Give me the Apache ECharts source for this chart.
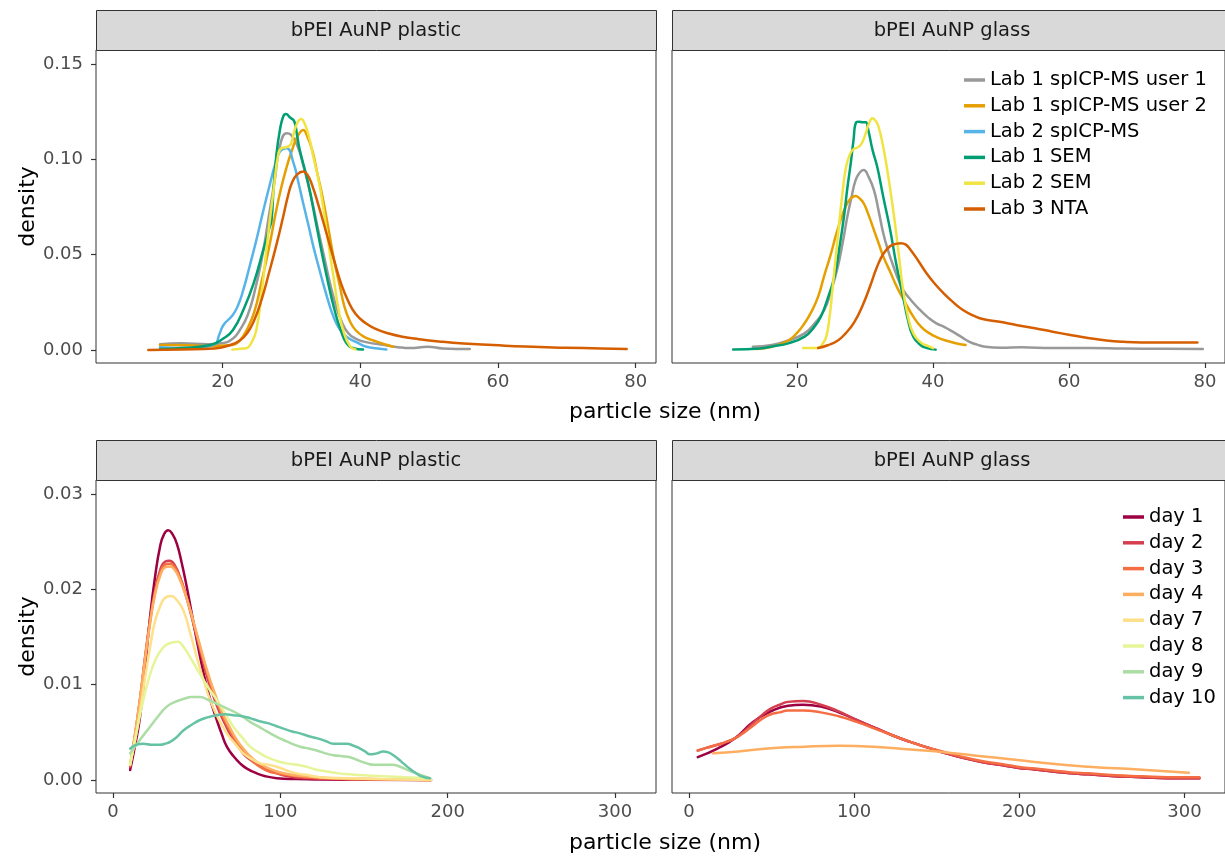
<!DOCTYPE html>
<html><head><meta charset="utf-8">
<script src="https://cdn.jsdelivr.net/npm/echarts@6/dist/echarts.min.js"></script>
<style>html,body{margin:0;padding:0;background:#fff}#c{width:1225px;height:857px}</style>
</head><body><div id="c"></div>
<script>
// ---------- tick labels ----------
const xTicksTop = [20, 40, 60, 80];
const yTicksTop = [0, 0.05, 0.10, 0.15];
const xTicksBottom = [0, 100, 200, 300];
const yTicksBottom = [0, 0.01, 0.02, 0.03];
const panelTitles = ['bPEI AuNP plastic', 'bPEI AuNP glass', 'bPEI AuNP plastic', 'bPEI AuNP glass'];
const xTitle = 'particle size (nm)';
const yTitle = 'density';

// ---------- categories ----------
const labNames = ['Lab 1 spICP-MS user 1', 'Lab 1 spICP-MS user 2', 'Lab 2 spICP-MS', 'Lab 1 SEM', 'Lab 2 SEM', 'Lab 3 NTA'];
const dayNames = ['day 1', 'day 2', 'day 3', 'day 4', 'day 7', 'day 8', 'day 9', 'day 10'];

// ---------- top row, plastic: [particle size, density] ----------
const plasticUser1 = [[10.9,0.003],[14,0.0035],[18,0.003],[19.9,0.0035],[21.5,0.006],[22.5,0.0105],[23.6,0.018],[24.6,0.030],[25.7,0.048],[26.7,0.070],[27.6,0.090],[28.3,0.1067],[29.3,0.1137],[29.9,0.113],[30.9,0.1067],[31.7,0.097],[32.5,0.0857],[33.3,0.073],[34,0.061],[34.8,0.048],[35.6,0.035],[36.4,0.024],[37.2,0.0157],[38.2,0.009],[39.3,0.006],[41,0.004],[43.5,0.0026],[45.5,0.0015],[47.2,0.001],[49.8,0.0017],[52,0.0008],[55.9,0.0005]];
const plasticUser2 = [[10.9,0.0026],[15,0.0025],[18,0.002],[21.4,0.0026],[22.5,0.005],[23.5,0.0105],[24.6,0.02],[25.6,0.035],[26.7,0.053],[27.7,0.0717],[28.5,0.085],[29.3,0.096],[30.0,0.104],[30.6,0.110],[31.2,0.114],[31.7,0.1154],[32.3,0.112],[33.0,0.105],[33.8,0.092],[34.6,0.0787],[35.4,0.063],[36.2,0.047],[37.0,0.034],[37.7,0.0227],[38.5,0.015],[39.3,0.0105],[40.5,0.007],[41.9,0.005],[43.5,0.003],[44.8,0.0017]];
const plasticIcp2 = [[10.9,0.0015],[15,0.001],[18.8,0.003],[19.5,0.008],[20.1,0.013],[21.5,0.0185],[22.3,0.024],[23,0.0315],[24,0.045],[24.9,0.0577],[25.9,0.073],[26.9,0.0875],[27.6,0.097],[28.3,0.104],[29.3,0.1058],[30.3,0.098],[31.0,0.088],[31.7,0.077],[32.5,0.065],[33.2,0.054],[34.0,0.043],[34.6,0.035],[35.4,0.025],[36.1,0.0175],[37,0.011],[38,0.007],[39.5,0.004],[40.9,0.0017],[42.5,0.0008],[43.8,0.0003]];
const plasticSem1 = [[10.9,0.0005],[14,0.001],[18.2,0.0026],[20.1,0.006],[21.5,0.0105],[23,0.021],[24.5,0.035],[25.9,0.0525],[26.8,0.064],[27.1,0.068],[27.4,0.085],[27.8,0.102],[28.3,0.115],[28.8,0.1225],[29.2,0.1238],[29.8,0.122],[30.4,0.12],[30.8,0.113],[31.2,0.105],[32.4,0.088],[33.7,0.064],[35.1,0.039],[36.4,0.019],[37.3,0.009],[38,0.0035],[39,0.001],[40.4,0.0002]];
const plasticSem2 = [[21.4,0.0002],[23,0.0008],[23.5,0.001],[24.2,0.004],[24.9,0.0105],[25.7,0.031],[26.4,0.054],[27.4,0.084],[28.1,0.103],[28.6,0.106],[29.3,0.1065],[29.9,0.108],[30.6,0.117],[31.4,0.1212],[32.0,0.118],[32.6,0.111],[33.2,0.101],[34.0,0.088],[34.6,0.075],[35.4,0.055],[36.1,0.0385],[36.8,0.022],[37.5,0.0105],[38.5,0.002],[39.3,0.0003]];
const plasticNta = [[9.2,0],[14,0.0003],[18.8,0.0008],[21,0.0025],[22.5,0.0050],[23.6,0.009],[24.6,0.0157],[25.7,0.027],[26.7,0.040],[27.8,0.055],[28.8,0.070],[29.5,0.081],[30.1,0.088],[30.8,0.092],[31.7,0.0936],[32.3,0.092],[33,0.0865],[34,0.075],[35.1,0.061],[36.2,0.047],[37.2,0.035],[38.2,0.026],[39.3,0.019],[40.8,0.014],[42.4,0.0108],[44,0.0088],[46.1,0.007],[48.5,0.0057],[51.4,0.0045],[55,0.0034],[59.3,0.0026],[64,0.0018],[69.8,0.0012],[75,0.0008],[78.7,0.0005]];

// ---------- top row, glass ----------
const glassUser1 = [[13.5,0.0017],[16.3,0.0026],[18.7,0.005],[21.1,0.0087],[22.6,0.014],[24,0.021],[25,0.031],[26,0.0437],[26.7,0.056],[27.4,0.070],[28.0,0.080],[28.6,0.089],[29.2,0.093],[29.8,0.0944],[30.5,0.091],[31.3,0.084],[32,0.073],[32.7,0.061],[33.5,0.051],[34.2,0.0437],[35,0.036],[35.6,0.0315],[36.8,0.026],[38.1,0.021],[39.3,0.017],[40.5,0.014],[41.7,0.012],[42.9,0.0096],[44.1,0.007],[45.3,0.0044],[46.5,0.0028],[47.7,0.0017],[50,0.0012],[53,0.0014],[57.6,0.0010],[63,0.0011],[68,0.0008],[74,0.0006],[79.7,0.0005]];
const glassUser2 = [[14,0.0005],[16.3,0.0017],[18.7,0.005],[20,0.009],[21.1,0.014],[22.1,0.02],[23.1,0.028],[24,0.039],[25,0.0507],[25.7,0.06],[26.4,0.068],[27.0,0.074],[27.7,0.0787],[28.6,0.0808],[29.2,0.0795],[29.8,0.077],[30.5,0.071],[31.3,0.063],[32,0.056],[32.7,0.049],[33.7,0.041],[34.7,0.033],[35.9,0.025],[37.1,0.0175],[38.3,0.012],[39.5,0.0087],[40.7,0.0065],[41.9,0.005],[43.2,0.0037],[44.8,0.0026]];
const glassSem1 = [[10.6,0.0002],[14.5,0.0008],[16.5,0.002],[18.7,0.0035],[21.1,0.007],[22.5,0.012],[23.5,0.0175],[24.5,0.027],[25.5,0.0385],[26.2,0.053],[26.9,0.070],[27.4,0.085],[27.9,0.098],[28.3,0.110],[28.7,0.1195],[29.1,0.1198],[29.7,0.1195],[30.1,0.1195],[30.5,0.115],[31.1,0.105],[31.8,0.096],[32.7,0.08],[33.7,0.063],[34.6,0.045],[35.6,0.028],[36.3,0.016],[37.1,0.007],[38.2,0.0025],[39,0.0012],[40.4,0.0002]];
const glassSem2 = [[20.9,0.001],[23.1,0.001],[23.7,0.003],[24.3,0.007],[24.8,0.018],[25.2,0.0315],[25.7,0.049],[26.2,0.0665],[26.7,0.083],[27.2,0.096],[27.7,0.102],[28.2,0.105],[29.1,0.1067],[29.6,0.109],[30.1,0.1137],[30.6,0.119],[31.1,0.1216],[31.6,0.120],[32,0.117],[32.6,0.108],[33.2,0.096],[33.8,0.082],[34.4,0.0665],[35,0.049],[35.6,0.0315],[36.3,0.018],[37.1,0.0087],[38.2,0.004],[39.3,0.002],[40,0.001]];
const glassNta = [[23.1,0.001],[24.5,0.0025],[26,0.005],[27.2,0.009],[28.4,0.0145],[29.6,0.023],[30.8,0.034],[31.7,0.043],[32.7,0.0505],[33.7,0.0545],[34.7,0.0558],[35.3,0.056],[36,0.0553],[36.6,0.0530],[37.8,0.047],[39.0,0.0405],[40.2,0.035],[41.5,0.030],[43,0.025],[44.4,0.021],[46,0.018],[47.3,0.0163],[49.8,0.0148],[52.4,0.013],[55,0.0114],[57.6,0.0096],[60.2,0.0079],[62.8,0.0063],[65.5,0.0050],[68,0.0043],[70.7,0.0040],[75,0.004],[78.9,0.004]];

// ---------- bottom row, plastic (days) ----------
const plDay1 = [[10.2,0.00105],[13,0.0035],[16.1,0.0066],[19,0.0115],[22.1,0.0171],[25,0.0212],[28.1,0.0245],[30.5,0.0258],[33,0.0262],[35.5,0.0258],[38.1,0.0248],[41,0.0228],[44,0.0203],[47,0.0175],[50,0.0147],[53,0.0121],[56,0.0098],[59,0.0079],[62,0.0063],[65,0.0048],[68,0.0035],[72,0.0025],[75.9,0.00175],[80,0.0012],[85.9,0.0007],[91,0.0004],[97.8,0.0002],[110,0.0001],[125,0.00005],[150,0.00002],[190,0]];
const plDay2 = [[10.2,0.0014],[13,0.0045],[16.1,0.0084],[19,0.0127],[22.1,0.0168],[25,0.0198],[28.1,0.022],[31,0.0229],[33.7,0.023],[37,0.0225],[40,0.0213],[43,0.0197],[46,0.0178],[49,0.0157],[52,0.0136],[55,0.0116],[58,0.0098],[61,0.0083],[63.9,0.007],[68,0.0055],[71.9,0.0042],[76,0.0032],[79.9,0.0024],[85,0.0018],[89.8,0.0014],[95,0.0009],[101.8,0.0005],[108,0.0003],[115.7,0.0002],[130,0.0001],[150,0.00005],[190,0]];
const plDay3 = [[10.2,0.0015],[13,0.0046],[16.1,0.0085],[19,0.0126],[22.1,0.0166],[25,0.0196],[28.1,0.0217],[31,0.0226],[34.1,0.0227],[37,0.0223],[40,0.0212],[43,0.0197],[46,0.0179],[49,0.0159],[52,0.0139],[55,0.012],[58,0.0102],[61,0.0087],[64,0.0073],[68,0.0058],[72,0.0045],[76,0.0034],[81.9,0.0022],[86,0.0016],[91.9,0.001],[98,0.0007],[105,0.0005],[115,0.0003],[130,0.00015],[150,0.0001],[190,0]];
const plDay4 = [[10.2,0.0016],[13,0.0047],[16.1,0.0085],[19,0.0125],[22.1,0.0164],[25,0.0194],[28.1,0.0214],[31,0.0223],[34.1,0.0224],[37,0.022],[40,0.021],[43,0.0196],[46,0.0179],[49,0.016],[52,0.0141],[55,0.0122],[58,0.0105],[61,0.009],[64,0.0076],[68,0.0061],[72,0.0048],[76,0.0037],[81.9,0.0025],[86,0.0019],[91.9,0.0013],[98,0.0009],[105,0.0006],[115,0.0004],[130,0.0002],[150,0.0001],[190,0]];
const plDay7 = [[10.2,0.0017],[13,0.004],[16.1,0.0072],[19,0.0106],[22.1,0.0139],[25,0.0166],[28.1,0.0182],[31,0.0191],[34.7,0.0193],[38,0.0189],[42,0.0178],[46,0.0155],[50,0.0129],[54,0.0105],[58,0.0084],[63,0.0064],[68,0.0049],[73,0.0038],[77.9,0.0028],[83,0.0022],[87.8,0.00175],[93,0.0016],[97.8,0.0014],[104,0.001],[109.8,0.0007],[117,0.0005],[123.7,0.0003],[140,0.0002],[160,0.0001],[190,0]];
const plDay8 = [[10.2,0.0016],[14,0.005],[18.1,0.0084],[22,0.011],[26.1,0.0129],[30,0.0139],[33,0.0143],[38.6,0.0145],[42,0.0140],[46,0.0129],[50,0.0117],[54,0.0105],[58,0.0094],[62,0.0084],[67,0.007],[71.9,0.0056],[77,0.0045],[81.9,0.0035],[87,0.0029],[91.9,0.0024],[98,0.002],[103.8,0.00175],[110,0.0016],[115.7,0.0014],[121,0.0011],[127.7,0.0009],[135,0.0007],[141.6,0.0006],[150,0.0005],[161.5,0.0004],[175,0.0003],[189.4,0.0002]];
const plDay9 = [[10.2,0.0028],[16,0.0042],[22.1,0.0056],[27,0.0067],[32.1,0.0077],[37,0.0082],[42,0.0085],[47,0.0087],[52,0.0087],[57,0.0084],[62,0.008],[67,0.0076],[71.9,0.0072],[77,0.0067],[81.9,0.0061],[87,0.0056],[91.9,0.0051],[97,0.0046],[101.8,0.0042],[107,0.0038],[111.8,0.0035],[117,0.0033],[121.7,0.0031],[127,0.0028],[131.7,0.0026],[137,0.0025],[141.6,0.0024],[146,0.0021],[151.6,0.00175],[156,0.0016],[161.5,0.0016],[167,0.0016],[171.5,0.0014],[177,0.001],[181.5,0.0007],[186,0.0004],[189.4,0.0002]];
const plDay10 = [[10.2,0.0033],[14,0.0037],[18.1,0.0038],[23,0.0037],[28.1,0.0037],[31,0.0038],[34.1,0.004],[38,0.0045],[42,0.0052],[47,0.0058],[52,0.0063],[57,0.0066],[62,0.0068],[67,0.0069],[71.9,0.0068],[77,0.0067],[81.9,0.0065],[87,0.0062],[91.9,0.006],[97,0.0057],[101.8,0.0054],[107,0.0051],[111.8,0.0049],[117,0.0046],[121.7,0.0044],[127,0.0041],[131.7,0.0038],[135.7,0.0038],[139.7,0.0038],[143.7,0.0036],[147.6,0.0033],[150.6,0.003],[153.6,0.0027],[157.6,0.0028],[161.5,0.003],[164.5,0.0029],[167.5,0.0026],[170.5,0.0022],[173.5,0.00175],[176.5,0.0013],[179.5,0.0009],[183,0.0005],[186,0.0003],[189.4,0.0002]];

// ---------- bottom row, glass (days) ----------
const glDay1 = [[5.4,0.0024],[17.3,0.0033],[28.1,0.0044],[38.8,0.0061],[49.6,0.0072],[60,0.0078],[69.1,0.0079],[79.9,0.0077],[90.7,0.0071],[101.5,0.0063],[112.4,0.0055],[123.1,0.0047],[134,0.004],[144.8,0.0034],[155.6,0.0028],[166.4,0.0023],[177.2,0.0019],[188,0.0016],[198.8,0.0013],[209.6,0.0011],[220.4,0.0009],[231.2,0.0007],[242,0.0006],[258,0.0004],[274.4,0.0003],[290,0.0002],[309,0.0002]];
const glDay2 = [[5.4,0.0031],[11,0.0034],[17.3,0.0037],[22.7,0.004],[28.1,0.0044],[33.5,0.0051],[38.8,0.006],[44.2,0.0068],[49.6,0.0075],[55,0.0079],[60,0.0082],[69.1,0.0083],[79.9,0.0079],[90.7,0.0072],[101.5,0.0063],[112.4,0.0055],[123.1,0.0047],[134,0.004],[144.8,0.0034],[155.6,0.0028],[166.4,0.0023],[177.2,0.0019],[188,0.0016],[198.8,0.0013],[209.6,0.0011],[220.4,0.0009],[231.2,0.0007],[242,0.0006],[258,0.0004],[274.4,0.0003],[290,0.0002],[309,0.0002]];
const glDay3 = [[5.4,0.0031],[11,0.0034],[17.3,0.0037],[22.7,0.004],[28.1,0.0044],[33.5,0.005],[38.8,0.0057],[44.2,0.0064],[49.6,0.0069],[55,0.0071],[60,0.0073],[69.1,0.0073],[79.9,0.0071],[90.7,0.0067],[101.5,0.0061],[112.4,0.0054],[123.1,0.0047],[134,0.004],[144.8,0.0034],[155.6,0.0029],[166.4,0.0024],[177.2,0.002],[188,0.0017],[198.8,0.0014],[209.6,0.0012],[220.4,0.001],[231.2,0.0008],[242,0.0007],[258,0.0005],[274.4,0.0004],[290,0.0003],[309,0.0003]];
const glDay4 = [[14.6,0.0028],[30,0.0030],[47.5,0.0033],[70,0.0035],[90.7,0.0036],[112,0.0035],[134,0.0032],[155.6,0.0029],[177,0.0025],[198.8,0.0021],[220,0.0017],[242,0.0014],[272,0.0011],[302.6,0.00077]];

// ---------- styling ----------
const FONT = 'DejaVu Sans';
const labColors = ['#999999', '#E69F00', '#56B4E9', '#009E73', '#F0E442', '#D55E00'];
const dayColors = ['#9E0142', '#D53E4F', '#F46D43', '#FDAE61', '#FEE08B', '#E6F598', '#ABDDA4', '#66C2A5'];

const panels = [
  { left: 96, top: 50, xMin: 1.6, xMax: 82.96, yMin: -0.00682, yMax: 0.1574, xt: xTicksTop, yt: yTicksTop },
  { left: 672, top: 50, xMin: 1.6, xMax: 82.96, yMin: -0.00682, yMax: 0.1574, xt: xTicksTop, yt: null },
  { left: 96, top: 480, xMin: -10.2, xMax: 324.5, yMin: -0.00136, yMax: 0.03148, xt: xTicksBottom, yt: yTicksBottom },
  { left: 672, top: 480, xMin: -10.2, xMax: 324.5, yMin: -0.00136, yMax: 0.03148, xt: xTicksBottom, yt: null }
];
const PW = 560, PH = 313;

const grid = panels.map(p => ({ left: p.left, top: p.top, width: PW, height: PH, show: true,
  borderColor: '#333333', borderWidth: 1, backgroundColor: '#ffffff' }));

const xAxis = panels.map((p, i) => ({
  type: 'value', gridIndex: i, min: p.xMin, max: p.xMax, position: 'bottom',
  axisLine: { show: false, onZero: false }, splitLine: { show: false },
  axisTick: { show: true, length: 5, lineStyle: { color: '#333333', width: 1.2 }, customValues: p.xt },
  axisLabel: { customValues: p.xt, color: '#4d4d4d', fontSize: 18, fontFamily: FONT, margin: 10 }
}));
const yAxis = panels.map((p, i) => ({
  type: 'value', gridIndex: i, min: p.yMin, max: p.yMax, position: 'left',
  axisLine: { show: false, onZero: false }, splitLine: { show: false },
  axisTick: p.yt ? { show: true, length: 5, lineStyle: { color: '#333333', width: 1.2 }, customValues: p.yt } : { show: false },
  axisLabel: p.yt ? { customValues: p.yt, color: '#4d4d4d', fontSize: 18, fontFamily: FONT, margin: 13,
    formatter: v => v.toFixed(2) } : { show: false },
  name: p.yt ? yTitle : '', nameLocation: 'middle', nameRotate: 90, nameGap: 55,
  nameTextStyle: { color: '#000', fontSize: 22, fontFamily: FONT }
}));

function mk(name, data, color, panel) {
  return { type: 'line', name: name, data: data, xAxisIndex: panel, yAxisIndex: panel,
    symbol: 'none', showSymbol: false, smooth: 0.5, clip: true,
    lineStyle: { width: 2.5, color: color, cap: 'round', join: 'round' }, itemStyle: { color: color },
    emphasis: { disabled: true }, silent: true, animation: false };
}

const plasticLab = [plasticUser1, plasticUser2, plasticIcp2, plasticSem1, plasticSem2, plasticNta];
const glassLab = [glassUser1, glassUser2, null, glassSem1, glassSem2, glassNta];
const plasticDays = [plDay1, plDay2, plDay3, plDay4, plDay7, plDay8, plDay9, plDay10];
const glassDays = [glDay1, glDay2, glDay3, glDay4, null, null, null, null];

const series = [];
labNames.forEach((n, k) => { series.push(mk(n, plasticLab[k], labColors[k], 0)); });
labNames.forEach((n, k) => { if (glassLab[k]) series.push(mk(n, glassLab[k], labColors[k], 1)); });
dayNames.forEach((n, k) => { series.push(mk(n, plasticDays[k], dayColors[k], 2)); });
dayNames.forEach((n, k) => { if (glassDays[k]) series.push(mk(n, glassDays[k], dayColors[k], 3)); });

const legendBase = { orient: 'vertical', icon: 'rect', itemWidth: 21, itemHeight: 3.5, itemGap: 5.8, padding: 0,
  selectedMode: false, textStyle: { fontSize: 19.5, lineHeight: 20, color: '#000', fontFamily: FONT } };
const legend = [
  Object.assign({}, legendBase, { data: labNames, left: 964, top: 70 }),
  Object.assign({}, legendBase, { data: dayNames, left: 1123, top: 507 })
];

const graphic = [];
panels.forEach((p, i) => {
  const stripTop = i < 2 ? 10 : 440;
  graphic.push({ type: 'rect', silent: true, z: 1,
    shape: { x: p.left + 0.5, y: stripTop + 0.5, width: PW, height: p.top - stripTop },
    style: { fill: '#d9d9d9', stroke: '#333333', lineWidth: 1 } });
  graphic.push({ type: 'text', silent: true, z: 2, x: p.left + PW / 2, y: (stripTop + p.top) / 2 + 1,
    style: { text: panelTitles[i], fill: '#1a1a1a', font: '19.5px "' + FONT + '"', align: 'center', verticalAlign: 'middle' } });
});
graphic.push({ type: 'text', silent: true, x: 665, y: 412,
  style: { text: xTitle, fill: '#000', font: '22px "' + FONT + '"', align: 'center', verticalAlign: 'middle' } });
graphic.push({ type: 'text', silent: true, x: 665, y: 843,
  style: { text: xTitle, fill: '#000', font: '22px "' + FONT + '"', align: 'center', verticalAlign: 'middle' } });

const chart = echarts.init(document.getElementById('c'), null, { renderer: 'canvas' });
chart.setOption({ animation: false, backgroundColor: '#ffffff', grid, xAxis, yAxis, series, legend, graphic });
</script></body></html>
